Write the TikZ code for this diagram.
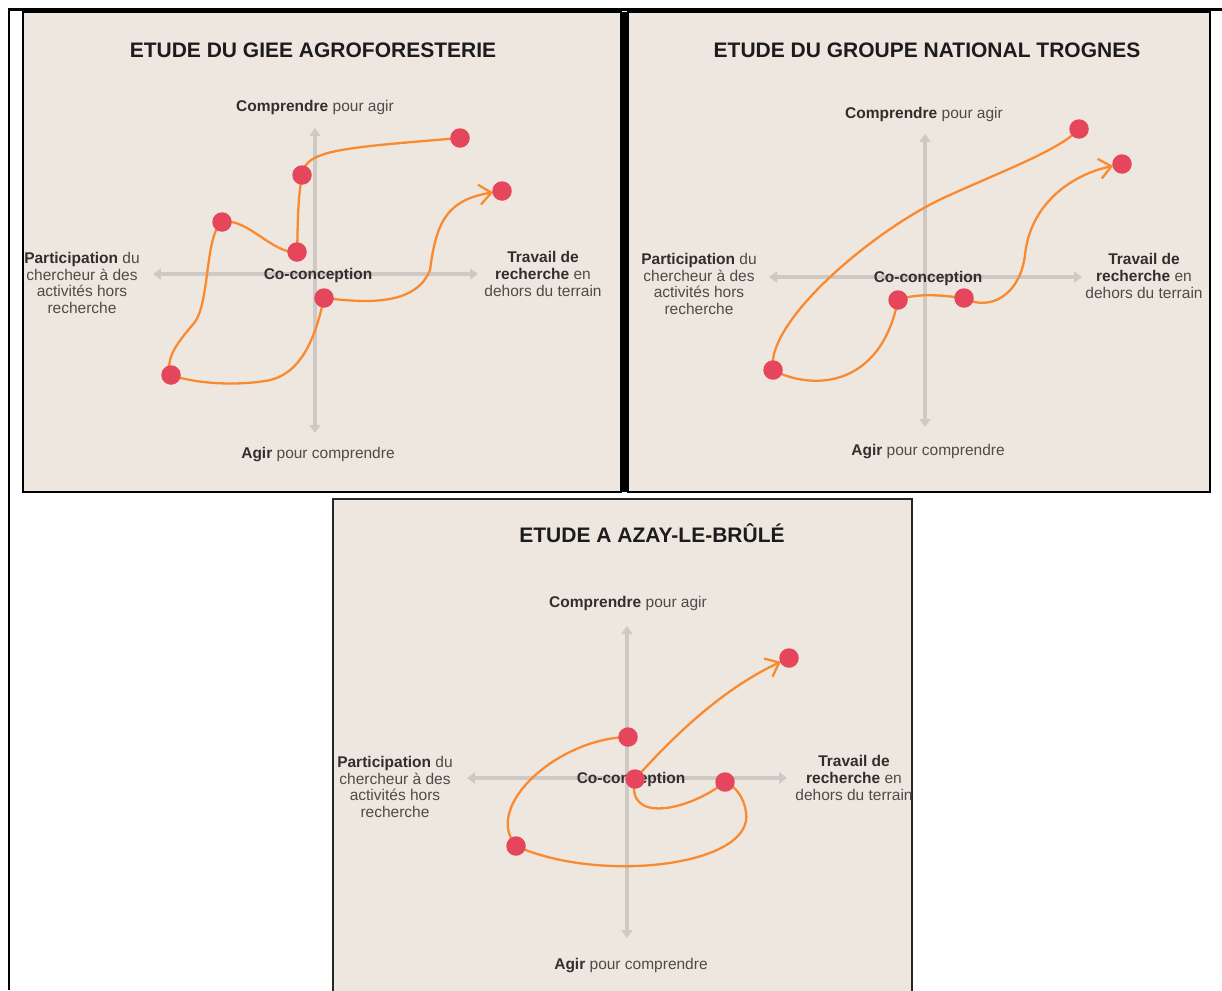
\documentclass[tikz,border=0pt]{standalone}
\usepackage{fontspec}
\setmainfont{Liberation Sans}
\usetikzlibrary{arrows.meta}
\definecolor{panelbg}{RGB}{238,231,224}
\definecolor{axisgray}{RGB}{206,201,197}
\definecolor{pathorange}{RGB}{250,138,48}
\definecolor{dotred}{RGB}{229,70,92}
\definecolor{txtbold}{RGB}{50,46,44}
\definecolor{txtreg}{RGB}{80,75,72}
\definecolor{titleblack}{RGB}{28,28,28}
\newcommand\boldpart[1]{{\color{txtbold}\bfseries #1}}
\pgfdeclarelayer{back}
\pgfdeclarelayer{lines}
\pgfsetlayers{back,lines,main}
\tikzset{
  panel/.style={fill=panelbg, draw=black, line width=1.6pt},
  axisline/.style={draw=axisgray, line width=3.5pt,
    {Triangle[length=8pt,width=11pt]}-{Triangle[length=8pt,width=11pt]}},
  titletext/.style={font=\fontsize{21}{25}\selectfont\bfseries, text=titleblack, inner sep=0pt},
  lab/.style={font=\fontsize{15.5}{16.8}\selectfont, text=txtreg, align=center, inner sep=0pt},
  reddot/.style={circle, fill=dotred, minimum size=19.5pt, inner sep=0pt},
  journey/.style={draw=pathorange, line width=2.3pt, line cap=round, line join=round},
  journeyend/.style={journey, shorten >=9pt, -{Straight Barb[length=12pt,width=20pt]}}
}
\begin{document}
\begin{tikzpicture}[x=1pt,y=-1pt]
\useasboundingbox (0,0) rectangle (1222,990);
\begin{pgfonlayer}{back}
  % frames
  \draw[panel] (23,12) rectangle (621,492);
  \draw[panel] (628,12) rectangle (1210,492);
  \draw[panel, line width=1.4pt, draw=black!85] (333,499) rectangle (912,1000);
  \draw[line width=7pt] (624.5,12) -- (624.5,492);
  \draw[line width=3pt] (8,9.5) -- (1222,9.5);
  \draw[line width=2.5pt] (9,9) -- (9,990);
  % axes
  \draw[axisline] (315,128) -- (315,433);
  \draw[axisline] (153,274) -- (478,274);
  \draw[axisline] (925,134) -- (925,427);
  \draw[axisline] (769,277) -- (1082,277);
  \draw[axisline] (627,626) -- (627,938);
  \draw[axisline] (467,778) -- (787,778);
  % panel 1 texts
  \node[titletext] (p1title) at (313,50) {ETUDE DU GIEE AGROFORESTERIE};
  \node[lab] (p1top) at (315,107) {\boldpart{Comprendre} pour agir};
  \node[lab] (p1mid) at (318,275) {\boldpart{Co-conception}};
  \node[lab] (p1left) at (82,283) {\boldpart{Participation} du\\chercheur à des\\activités hors\\recherche};
  \node[lab] (p1right) at (543,274) {\boldpart{Travail de}\\\boldpart{recherche} en\\dehors du terrain};
  \node[lab] (p1bot) at (318,455) {\boldpart{Agir} pour comprendre};
  % panel 2 texts
  \node[titletext] (p2title) at (927,50) {ETUDE DU GROUPE NATIONAL TROGNES};
  \node[lab] (p2top) at (924,114) {\boldpart{Comprendre} pour agir};
  \node[lab] (p2mid) at (928,278) {\boldpart{Co-conception}};
  \node[lab] (p2left) at (699,284) {\boldpart{Participation} du\\chercheur à des\\activités hors\\recherche};
  \node[lab] (p2right) at (1144,276) {\boldpart{Travail de}\\\boldpart{recherche} en\\dehors du terrain};
  \node[lab] (p2bot) at (928,452) {\boldpart{Agir} pour comprendre};
  % panel 3 texts
  \node[titletext] (p3title) at (652,533) {ETUDE A AZAY-LE-BRÛLÉ};
  \node[lab] (p3top) at (628,603) {\boldpart{Comprendre} pour agir};
  \node[lab] (p3mid) at (631,779) {\boldpart{Co-conception}};
  \node[lab] (p3left) at (395,787) {\boldpart{Participation} du\\chercheur à des\\activités hors\\recherche};
  \begin{scope}
    \clip (333,499) rectangle (911,990);
    \node[lab] (p3right) at (854,778) {\boldpart{Travail de}\\\boldpart{recherche} en\\dehors du terrain};
  \end{scope}
  \node[lab] (p3bot) at (631,966) {\boldpart{Agir} pour comprendre};
\end{pgfonlayer}
% dots panel 1
\node[reddot] (g1) at (460,138) {};
\node[reddot] (g2) at (302,175) {};
\node[reddot] (g3) at (297,252) {};
\node[reddot] (g4) at (222,222) {};
\node[reddot] (g5) at (171,375) {};
\node[reddot] (g6) at (324,298) {};
\node[reddot] (g7) at (502,191) {};
% dots panel 2
\node[reddot] (t1) at (1079,129) {};
\node[reddot] (t2) at (773,370) {};
\node[reddot] (t3) at (898,300) {};
\node[reddot] (t4) at (964,298) {};
\node[reddot] (t5) at (1122,164) {};
% dots panel 3
\node[reddot] (z1) at (628,737) {};
\node[reddot] (z2) at (516,846) {};
\node[reddot] (z3) at (725,782) {};
\node[reddot] (z4) at (635,779) {};
\node[reddot] (z5) at (789,658) {};
\begin{pgfonlayer}{lines}
  \draw[journeyend] (g1.center) .. controls (340,148) and (305,150) .. (g2.center)
    .. controls (297,205) and (298,230) .. (g3.center)
    .. controls (272,254) and (247,217) .. (g4.center)
    .. controls (205,235) and (210,300) .. (195,322)
    .. controls (175,345) and (165,360) .. (g5.center)
    .. controls (200,385) and (240,385) .. (265,381)
    .. controls (300,376) and (315,340) .. (g6.center)
    .. controls (360,302) and (415,308) .. (430,270)
    .. controls (436,225) and (445,200) .. (g7.center);
  \draw[journeyend] (t1.center) .. controls (1060,150) and (1000,172) .. (950,195)
    .. controls (880,225) and (765,320) .. (t2.center)
    .. controls (810,390) and (880,390) .. (t3.center)
    .. controls (920,292) and (945,296) .. (t4.center)
    .. controls (990,312) and (1020,295) .. (1025,255)
    .. controls (1030,205) and (1070,175) .. (t5.center);
  \draw[journeyend] (z1.center) .. controls (560,738) and (482,805) .. (z2.center)
    .. controls (600,884) and (755,866) .. (746,812)
    .. controls (744,797) and (735,786) .. (z3.center)
    .. controls (690,810) and (625,825) .. (z4.center)
    .. controls (670,740) and (720,690) .. (z5.center);
\end{pgfonlayer}
\end{tikzpicture}
\end{document}
